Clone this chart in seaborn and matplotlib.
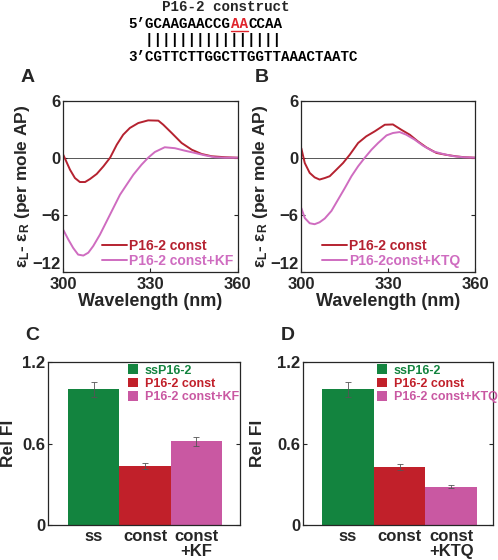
import numpy as np
import pandas as pd
import matplotlib
matplotlib.use("Agg")
import matplotlib.pyplot as plt
from matplotlib.patches import Patch
from matplotlib.lines import Line2D
import seaborn as sns

# CD spectra (wavelength nm, eps_L - eps_R)
a_const_nm = [300, 302.3, 304, 305.7, 307.5, 309.2, 311.5, 313.8, 316.1, 318.4, 320.6, 322.9,
              325.8, 329.2, 332.7, 334.4, 337.3, 340.7, 344.2, 347.6, 351.1, 355.6, 360]
a_const_cd = [0.3, -1.26, -2.14, -2.56, -2.56, -2.24, -1.71, -0.91, 0.0, 1.37, 2.42, 3.13,
              3.65, 3.93, 3.9, 3.47, 2.6, 1.55, 0.84, 0.39, 0.15, 0.05, 0.0]
a_kf_nm = [300, 301.7, 303.4, 305.1, 306.9, 308.6, 310.3, 312.6, 314.9, 317.2, 319.5, 321.8,
           324.1, 326.9, 329.2, 331.5, 334.9, 338.4, 341.8, 345.3, 348.7, 352.1, 355.6, 360]
a_kf_cd = [-7.6, -8.6, -9.5, -10.2, -10.3, -10.0, -9.3, -8.1, -6.7, -5.3, -3.9, -2.84,
           -1.79, -0.74, 0.0, 0.6, 1.1, 1.0, 0.74, 0.5, 0.25, 0.05, 0.0, 0.0]

b_const_nm = [300.1, 301.3, 303, 304.7, 306.4, 308.2, 309.9, 312.2, 314.5, 316.8, 319.7, 322.5,
              325.4, 328.9, 331.7, 334.6, 337.5, 340.3, 343.2, 346.7, 350.1, 353.6, 356.4, 360]
b_const_cd = [1.0, -0.56, -1.6, -2.07, -2.3, -2.14, -1.95, -1.26, -0.56, 0.31, 1.55, 2.25,
              2.77, 3.47, 3.5, 2.94, 2.42, 1.72, 1.09, 0.5, 0.3, 0.14, 0.05, 0.0]
b_ktq_nm = [300.1, 301.3, 303, 304.7, 306.4, 308.2, 310.5, 312.8, 315.1, 317.4, 319.7, 322.0,
            324.3, 326.6, 329.5, 331.7, 334, 336.3, 339.2, 342.1, 345.5, 349, 352.4, 355.9, 360]
b_ktq_cd = [-5.3, -6.35, -6.9, -7.0, -6.8, -6.4, -5.6, -4.4, -3.2, -1.95, -0.9, 0.0,
            0.84, 1.55, 2.35, 2.6, 2.7, 2.42, 1.9, 1.26, 0.67, 0.39, 0.17, 0.05, 0.0]

# relative fluorescence bars
c_cats = ["ss", "const", "const\n+KF"]
c_vals = [1.0, 0.435, 0.615]
c_errs = [0.054, 0.022, 0.034]
c_legend = ["ssP16-2", "P16-2 const", "P16-2 const+KF"]

d_cats = ["ss", "const", "const\n+KTQ"]
d_vals = [1.0, 0.424, 0.282]
d_errs = [0.054, 0.022, 0.013]
d_legend = ["ssP16-2", "P16-2 const", "P16-2 const+KTQ"]

line_red = "#B52230"
line_pink = "#CF6CC0"
bar_cols = ["#13843F", "#C1202A", "#C958A2"]

sns.set_style("ticks")
plt.rcParams["font.family"] = ["Liberation Sans", "DejaVu Sans"]
plt.rcParams["font.weight"] = "bold"
plt.rcParams["mathtext.fontset"] = "custom"
plt.rcParams["mathtext.bf"] = "Liberation Sans:bold"
plt.rcParams["mathtext.rm"] = "Liberation Sans:bold"
plt.rcParams["mathtext.default"] = "bf"

W, H = 498, 560
fig = plt.figure(figsize=(W / 100, H / 100), dpi=100)


def box(x0, x1, ytop, ybot):
    return [x0 / W, 1 - ybot / H, (x1 - x0) / W, (ybot - ytop) / H]


def style_axes(ax):
    ax.tick_params(direction="in", length=3, width=0.8, left=True, right=True,
                   labelsize=12, pad=2)
    for s in ax.spines.values():
        s.set_linewidth(0.9)
        s.set_visible(True)
    for lab in ax.get_xticklabels() + ax.get_yticklabels():
        lab.set_fontweight("bold")


# ---- CD panels ----
def cd_panel(rect, s1, s2, labels, leg_x):
    ax = fig.add_axes(rect)
    df = pd.concat([
        pd.DataFrame({"nm": s1[0], "cd": s1[1], "s": labels[0]}),
        pd.DataFrame({"nm": s2[0], "cd": s2[1], "s": labels[1]}),
    ])
    sns.lineplot(data=df, x="nm", y="cd", hue="s", palette=[line_red, line_pink],
                 linewidth=1.4, ax=ax, sort=False)
    ax.axhline(0, color="#555555", lw=0.7, zorder=0)
    ax.set_xlim(300, 360)
    ax.set_ylim(-12, 6)
    ax.set_xticks([300, 330, 360])
    ax.set_yticks([-12, -6, 0, 6])
    ax.set_xlabel("Wavelength (nm)", fontsize=13, fontweight="bold", labelpad=1)
    ax.set_ylabel("ε$_L$- ε$_R$ (per mole AP)", fontsize=12.5, fontweight="bold")
    ax.yaxis.set_label_coords(-0.18, 0.5)
    style_axes(ax)
    ax.tick_params(axis="x", pad=3.5)
    ax.get_yticklabels()[0].set_va("bottom")
    leg = ax.legend(loc="lower left", bbox_to_anchor=(leg_x, 0.02), frameon=False,
                    handlelength=1.8, handletextpad=0.15,
                    labelspacing=0.12, borderpad=0, borderaxespad=0,
                    prop={"weight": "bold", "size": 10})
    for t, c in zip(leg.get_texts(), [line_red, line_pink]):
        t.set_color(c)
    return ax


axA = cd_panel(box(63.3, 237.7, 100.7, 271.7), (a_const_nm, a_const_cd),
               (a_kf_nm, a_kf_cd), ["P16-2 const", "P16-2 const+KF"], 0.22)
axB = cd_panel(box(301, 475, 100.7, 271.7), (b_const_nm, b_const_cd),
               (b_ktq_nm, b_ktq_cd), ["P16-2 const", "P16-2const+KTQ"], 0.12)


# ---- bar panels ----
def bar_panel(rect, cats, vals, errs, labels, xlim, leg_x, lab_x):
    ax = fig.add_axes(rect)
    df = pd.DataFrame({"cat": cats, "val": vals})
    sns.barplot(data=df, x="cat", y="val", hue="cat", palette=bar_cols, width=1.0,
                saturation=1, legend=False, ax=ax, edgecolor="none")
    ax.errorbar(np.arange(len(vals)), vals, yerr=errs, fmt="none", ecolor="#555555",
                elinewidth=0.6, capsize=2, capthick=0.6)
    ax.set_xlim(*xlim)
    ax.set_ylim(0, 1.2)
    ax.set_yticks([0, 0.6, 1.2])
    ax.set_yticklabels(["0", "0.6", "1.2"])
    ax.set_xlabel("")
    ax.set_ylabel("Rel FI", fontsize=12.5, fontweight="bold")
    ax.yaxis.set_label_coords(lab_x, 0.5)
    style_axes(ax)
    ax.tick_params(axis="x", length=0, pad=3)
    for lab in ax.get_xticklabels():
        lab.set_linespacing(0.95)
    handles = [Patch(facecolor=c, edgecolor="none") for c in bar_cols]
    leg = ax.legend(handles, labels, loc="upper left", bbox_to_anchor=(leg_x, 0.985),
                    frameon=False, handlelength=0.8, handleheight=0.8,
                    handletextpad=0.55, labelspacing=0.1, borderpad=0, borderaxespad=0,
                    prop={"weight": "bold", "size": 9})
    leg.set_clip_on(False)
    for t, c in zip(leg.get_texts(), bar_cols):
        t.set_color(c)
    return ax


axC = bar_panel(box(48, 240, 362, 525), c_cats, c_vals, c_errs, c_legend,
                (-0.89, 2.85), 0.415, -0.165)
axD = bar_panel(box(303, 493, 362, 525), d_cats, d_vals, d_errs, d_legend,
                (-0.87, 2.81), 0.39, -0.2)

# ---- panel letters ----
for x, y, s in [(28, 78, "A"), (262, 78, "B"), (32, 335, "C"), (288, 335, "D")]:
    fig.text(x / W, 1 - y / H, s, fontsize=14, fontweight="bold", ha="center", va="center")

# ---- construct sequence header ----
fs_mono = 10.3
mono = dict(family=["Liberation Mono", "DejaVu Sans Mono"], fontsize=fs_mono,
            fontweight="bold", va="center", ha="left")
cw = 0.6 * fs_mono * 100 / 72  # monospace advance in px
x0 = 128
fig.text(162 / W, 1 - 7 / H, "P16-2 construct", **mono)
fig.text(x0 / W, 1 - 23.5 / H, "5’GCAAGAACCG", color="black", **mono)
fig.text((x0 + 12 * cw) / W, 1 - 23.5 / H, "AA", color="#E0242C", **mono)
fig.text((x0 + 14 * cw) / W, 1 - 23.5 / H, "CCAA", color="black", **mono)
fig.add_artist(Line2D([(x0 + 12 * cw) / W, (x0 + 14 * cw) / W], [1 - 31 / H, 1 - 31 / H],
                      color="#E0242C", lw=1.0, transform=fig.transFigure))
fig.text(x0 / W, 1 - 40 / H, "  " + "|" * 16, color="black", **mono)
fig.text(x0 / W, 1 - 57 / H, "3’CGTTCTTGGCTTGGTTAAACTAATC", color="black", **mono)

plt.savefig("out.png", dpi=100)
